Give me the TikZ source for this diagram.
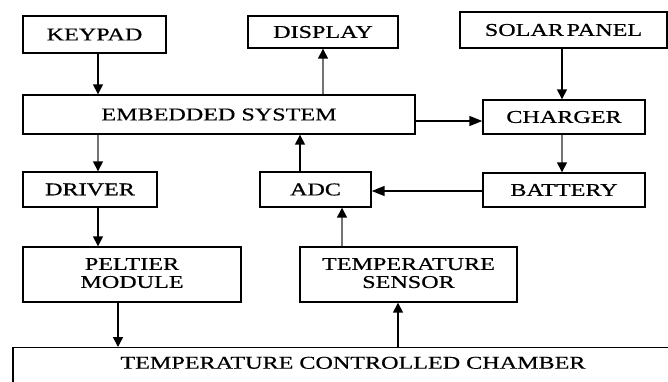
\documentclass[tikz,border=0pt]{standalone}
\usepackage{fontspec}
\setmainfont{Liberation Serif}
\newfontfamily\thickserif[FakeBold=0.5]{Liberation Serif}
\usetikzlibrary{arrows.meta}
\newcommand{\sx}[1]{\scalebox{1.34}[1]{#1}}
\tikzset{
  blk/.style={draw=black, line width=1.4pt, rectangle, inner sep=0pt, align=center,
    font=\thickserif\fontsize{18}{18}\selectfont},
  arr/.style={line width=1.5pt, -{Triangle[length=10pt,width=10pt]}},
  harr/.style={line width=1.5pt, -{Triangle[length=13pt,width=10pt]}},
  garr/.style={arr, draw=black!55, -{Triangle[length=10pt,width=10pt,color=black]}},
}
\begin{document}
\begin{tikzpicture}[x=1pt,y=-1pt]
\clip (0,0) rectangle (668,382);
\fill[white] (0,0) rectangle (668,382);
% boxes (centers, sizes from pixel extents)
\node[blk, minimum width=143, minimum height=37] (keypad) at (94.5,34.5) {\sx{KEYPAD}};
\node[blk, minimum width=150, minimum height=32] (display) at (323,32) {\sx{DISPLAY}};
\node[blk, minimum width=207, minimum height=36] (solar) at (563.5,30) {\sx{SOLAR\hspace{2pt}PANEL}};
\node[blk, minimum width=392, minimum height=39] (emb) at (219,114.5) {\sx{EMBEDDED SYSTEM}};
\node[blk, minimum width=162, minimum height=34] (charger) at (564,117) {\sx{CHARGER}};
\node[blk, minimum width=162, minimum height=34] (battery) at (564,190) {\sx{BATTERY}};
\node[blk, minimum width=134, minimum height=35] (driver) at (90,189.5) {\sx{DRIVER}};
\node[blk, minimum width=111, minimum height=35] (adc) at (315.5,189.5) {\sx{ADC}};
\node[blk, minimum width=218, minimum height=55] (peltier) at (132,274.5) {\raisebox{3pt}{\sx{PELTIER}}\\\raisebox{3pt}{\sx{MODULE}}};
\node[blk, minimum width=217, minimum height=55] (sensor) at (408.5,274.5) {\raisebox{3pt}{\sx{TEMPERATURE}}\\\raisebox{3pt}{\sx{SENSOR}}};
\node[blk, anchor=north, minimum width=680, inner ysep=4pt, text height=17pt, text depth=40pt] (chamber) at (353,347) {\sx{TEMPERATURE CONTROLLED CHAMBER}};
% connectors
\draw[arr] (keypad.south -| 98,0) -- (emb.north -| 98,0);
\draw[garr] (emb.north -| 323,0) -- (display.south -| 323,0);
\draw[harr] (emb.east |- 0,121) -- (charger.west |- 0,121);
\draw[arr] (solar.south -| 562,0) -- (charger.north -| 562,0);
\draw[garr] (charger.south -| 562,0) -- (battery.north -| 562,0);
\draw[harr] (battery.west |- 0,191) -- (adc.east |- 0,191);
\draw[arr] (adc.north -| 300,0) -- (emb.south -| 300,0);
\draw[garr] (emb.south -| 98,0) -- (driver.north -| 98,0);
\draw[arr] (driver.south -| 98,0) -- (peltier.north -| 98,0);
\draw[arr] (peltier.south -| 118,0) -- (chamber.north -| 118,0);
\draw[garr] (sensor.north -| 342,0) -- (adc.south -| 342,0);
\draw[arr] (chamber.north -| 398,0) -- (sensor.south -| 398,0);
\end{tikzpicture}
\end{document}
